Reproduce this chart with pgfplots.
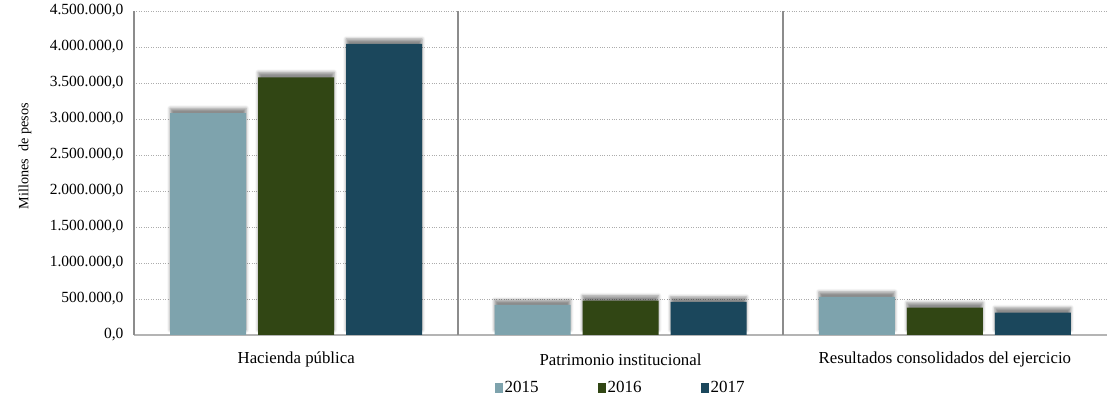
\documentclass[border=0pt]{standalone}
\usepackage{fontspec}
\setmainfont{Liberation Serif}
\usepackage{pgfplots}
\pgfplotsset{compat=1.18}
\usetikzlibrary{shadows.blur}

\definecolor{c15}{HTML}{7EA3AD}
\definecolor{c16}{HTML}{314614}
\definecolor{c17}{HTML}{1B475C}
\definecolor{sepgray}{HTML}{8C8C8C}
\definecolor{basegray}{HTML}{B4B4B4}

\begin{document}
\begin{tikzpicture}
\begin{axis}[
    scale only axis, width=973pt, height=324pt,
    ybar, bar width=76pt,
    xmin=-0.5, xmax=2.5, ymin=0, ymax=4500000,
    axis x line*=bottom, axis y line*=left,
    x axis line style={draw=basegray, line width=1.8pt},
    y axis line style={draw=sepgray, line width=2.2pt},
    xtick={0,1,2},
    xticklabels={Hacienda pública, Patrimonio institucional, Resultados consolidados del ejercicio},
    x tick label style={font=\fontsize{16.8}{18}\selectfont, anchor=center, yshift=-20pt},
    xtick style={draw=none},
    ytick={0,500000,...,4500000},
    ytick style={draw=none},
    scaled y ticks=false,
    yticklabel style={font=\fontsize{15.5}{17}\selectfont, anchor=east, xshift=-7pt,
        /pgf/number format/.cd, fixed, fixed zerofill, precision=1, use comma, assume math mode=true},
    ymajorgrids, y grid style={dotted, draw=gray!65},
    extra x ticks={-0.5,0.5,1.5},
    extra x tick labels={},
    extra x tick style={xmajorgrids=true, tick align=outside, major tick length=6pt,
        major grid style={solid, draw=sepgray, line width=2pt},
        tick style={draw=sepgray, line width=1.5pt}},
    ylabel={Millones\ \ de pesos},
    y label style={at={(axis description cs:-0.112,0.552)}, anchor=center, font=\fontsize{14.2}{16}\selectfont},
    legend columns=3,
    legend style={at={(axis description cs:0.5,0)}, anchor=center, yshift=-53pt, draw=none,
        font=\fontsize{17}{18}\selectfont,
        /tikz/every even column/.append style={column sep=57pt}},
    legend image code/.code={\fill[#1] (0pt,-4.5pt) rectangle (8pt,4.5pt);},
]
\addlegendimage{fill=c15, draw=none}\addlegendentry{2015}
\addlegendimage{fill=c16, draw=none}\addlegendentry{2016}
\addlegendimage{fill=c17, draw=none}\addlegendentry{2017}

\addplot[forget plot, bar shift=-88pt, fill=c15, draw=none,
    blur shadow={shadow xshift=0pt, shadow yshift=5pt, shadow blur radius=3pt, shadow opacity=45}]
    coordinates {(0,3080000) (1,417000) (2,530000)};
\addplot[forget plot, bar shift=0pt, fill=c16, draw=none,
    blur shadow={shadow xshift=0pt, shadow yshift=5pt, shadow blur radius=3pt, shadow opacity=45}]
    coordinates {(0,3579000) (1,476000) (2,380000)};
\addplot[forget plot, bar shift=88pt, fill=c17, draw=none,
    blur shadow={shadow xshift=0pt, shadow yshift=5pt, shadow blur radius=3pt, shadow opacity=45}]
    coordinates {(0,4042000) (1,460000) (2,310000)};
\end{axis}
\pgfresetboundingbox
\useasboundingbox ([xshift=-134pt,yshift=-63pt]current axis.south west) rectangle ([yshift=11pt]current axis.north east);
\end{tikzpicture}
\end{document}
